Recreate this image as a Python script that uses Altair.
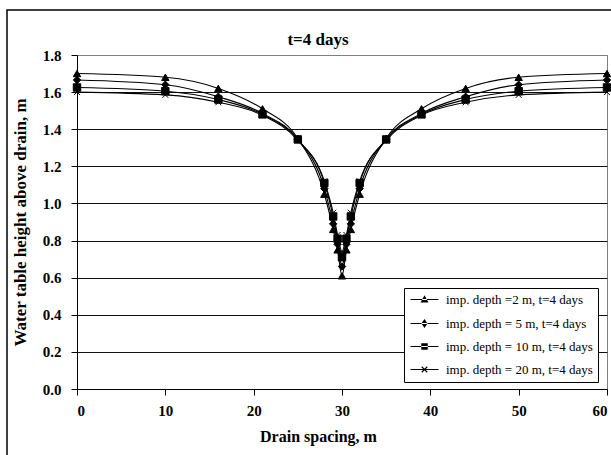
import altair as alt
import pandas as pd

# ---- data ----
x_vals = [0, 10, 16, 21, 25, 28, 29, 29.5, 30, 30.5, 31, 32, 35, 39, 44, 50, 60]
depth_2m = [1.70, 1.68, 1.62, 1.51, 1.35, 1.05, 0.86, 0.75, 0.61, 0.75, 0.86, 1.05, 1.35, 1.51, 1.62, 1.68, 1.70]
depth_5m = [1.665, 1.64, 1.575, 1.485, 1.345, 1.08, 0.89, 0.78, 0.66, 0.78, 0.89, 1.08, 1.345, 1.485, 1.575, 1.64, 1.665]
depth_10m = [1.625, 1.605, 1.56, 1.48, 1.345, 1.11, 0.93, 0.81, 0.71, 0.81, 0.93, 1.11, 1.345, 1.48, 1.56, 1.605, 1.625]
depth_20m = [1.60, 1.585, 1.545, 1.475, 1.34, 1.12, 0.95, 0.83, 0.74, 0.83, 0.95, 1.12, 1.34, 1.475, 1.545, 1.585, 1.60]
series_names = [
    "imp. depth =2 m, t=4 days",
    "imp. depth = 5 m, t=4 days",
    "imp. depth = 10 m, t=4 days",
    "imp. depth = 20 m, t=4 days",
]
chart_title = "t=4 days"
x_ticks = [0, 10, 20, 30, 40, 50, 60]
y_ticks = [0.0, 0.2, 0.4, 0.6, 0.8, 1.0, 1.2, 1.4, 1.6, 1.8]

rows = []
for name, vals in zip(series_names, [depth_2m, depth_5m, depth_10m, depth_20m]):
    for xv, yv in zip(x_vals, vals):
        rows.append({"x": xv, "y": yv, "series": name, "series_leg": name})
df = pd.DataFrame(rows)

FONT = "Liberation Serif"

# ---- legend symbol geometry (style only): everything drawn as filled shapes ----
CX = 1.8
T = 0.11  # half thickness of the line parts (units of 5 px)


def bar(x0, y0, x1, y1, t=T):
    dx, dy = x1 - x0, y1 - y0
    ln = (dx * dx + dy * dy) ** 0.5
    nx, ny = -dy / ln * t, dx / ln * t
    return (f"M{x0 + nx:.3f},{y0 + ny:.3f}L{x1 + nx:.3f},{y1 + ny:.3f}"
            f"L{x1 - nx:.3f},{y1 - ny:.3f}L{x0 - nx:.3f},{y0 - ny:.3f}Z")


seg = bar(-1.0, 0.0, 4.6, 0.0)
tri = f"M{CX},-0.85L{CX + 0.8},0.6L{CX - 0.8},0.6Z"
dia = f"M{CX},-0.9L{CX + 0.62},0L{CX},0.9L{CX - 0.62},0Z"
sq = f"M{CX - 0.65},-0.65L{CX + 0.65},-0.65L{CX + 0.65},0.65L{CX - 0.65},0.65Z"
crs = bar(CX - 0.55, -0.55, CX + 0.55, 0.55) + bar(CX - 0.55, 0.55, CX + 0.55, -0.55)
legend_paths = [seg + tri, seg + dia, seg + sq, seg + crs]

x_path = "M-0.8,-0.8L0.8,0.8M-0.8,0.8L0.8,-0.8"
plot_shapes = ["triangle-up", "diamond", "square", x_path]

xs = alt.X(
    "x:Q",
    scale=alt.Scale(domain=[0, 60], nice=False, zero=False),
    axis=alt.Axis(values=x_ticks, title="Drain spacing, m", grid=False,
                  tickSize=6, labelPadding=8, titlePadding=10, format="d", titleX=241),
)
ys = alt.Y(
    "y:Q",
    scale=alt.Scale(domain=[0, 1.8], nice=False),
    axis=alt.Axis(values=y_ticks, format=".1f", title="Water table height above drain, m",
                  grid=True, tickSize=6, labelPadding=10, titlePadding=13, titleFontSize=17,
                  gridColor={"condition": {"test": "datum.value >= 1.79", "value": "#808080"},
                             "value": "#111111"}),
)

lines = alt.Chart(df).mark_line(interpolate="monotone", color="black", strokeWidth=1.1).encode(
    x=xs, y=ys, detail="series:N"
)
points = alt.Chart(df).mark_point(
    filled=True, color="black", stroke="black", strokeWidth=1, size=55, opacity=1
).encode(
    x=xs, y=ys,
    shape=alt.Shape("series:N", scale=alt.Scale(domain=series_names, range=plot_shapes), legend=None),
)
legend_layer = alt.Chart(df).mark_point(
    filled=True, color="black", opacity=0, size=1
).encode(
    x=xs, y=ys,
    shape=alt.Shape(
        "series_leg:N",
        scale=alt.Scale(domain=series_names, range=legend_paths),
        legend=alt.Legend(
            title=None, orient="none", legendX=327, legendY=233,
            symbolSize=100, symbolFillColor="black", symbolOpacity=1,
            labelFont=FONT, labelFontSize=13, labelColor="black", labelOffset=24,
            strokeColor="black", fillColor="white", padding=5, rowPadding=9,
        ),
    ),
)
frame = alt.Chart(pd.DataFrame({"a": [0]})).mark_rect(
    fillOpacity=0, stroke="black", strokeWidth=1.5, clip=False
).encode(x=alt.value(-70), x2=alt.value(640), y=alt.value(-45), y2=alt.value(520))

title_text = alt.Chart(pd.DataFrame({"t": [chart_title]})).mark_text(
    font=FONT, fontSize=17, fontWeight="bold", color="black", align="center", baseline="alphabetic"
).encode(text="t:N", x=alt.value(241), y=alt.value(-10))

chart = alt.layer(frame, lines, points, legend_layer, title_text).resolve_scale(
    shape="independent"
).properties(
    width=530, height=334,
    autosize=alt.AutoSizeParams(type="none"),
    padding={"left": 77, "top": 55, "right": 4, "bottom": 66},
).configure_view(stroke="#808080", strokeWidth=1).configure_axis(
    labelFont=FONT, labelFontSize=15, labelFontWeight="bold", labelColor="black",
    titleFont=FONT, titleFontSize=16, titleFontWeight="bold", titleColor="black",
    domainColor="black", tickColor="black",
)

chart.save("out.html", embed_options={"renderer": "svg", "actions": False})
